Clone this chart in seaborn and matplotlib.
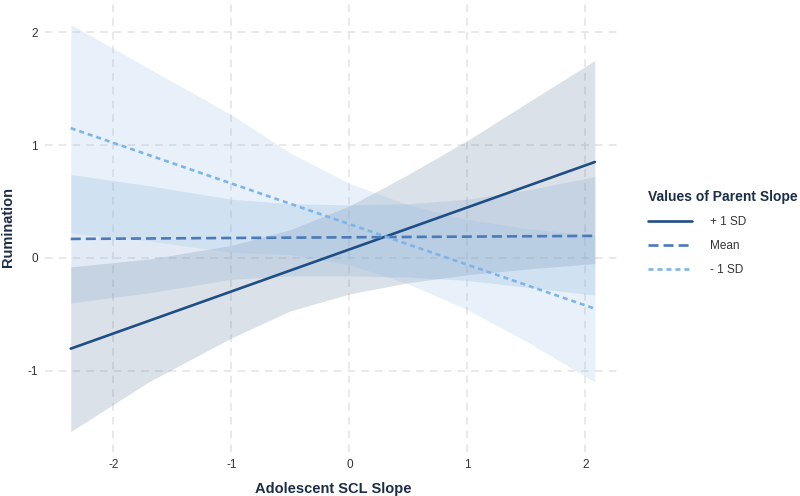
import numpy as np
import pandas as pd
import seaborn as sns
import matplotlib.pyplot as plt
from matplotlib.lines import Line2D

# simple slopes: line endpoints
line_x = [-2.36, 2.08]
plus_sd_line = [-0.805, 0.85]
mean_line = [0.168, 0.195]
minus_sd_line = [1.15, -0.45]

# confidence ribbons, read at a few x positions
band_x = [-2.36, -1.7, -1.0, -0.5, 0.0, 0.5, 1.0, 1.5, 2.08]
plus_sd_lo = [-1.54, -1.10, -0.71, -0.47, -0.32, -0.22, -0.15, -0.10, -0.05]
plus_sd_hi = [-0.08, -0.01, 0.11, 0.25, 0.46, 0.74, 1.04, 1.37, 1.75]
mean_lo = [-0.40, -0.31, -0.19, -0.16, -0.16, -0.17, -0.20, -0.26, -0.33]
mean_hi = [0.74, 0.64, 0.52, 0.48, 0.47, 0.48, 0.52, 0.60, 0.72]
minus_sd_lo = [0.22, 0.15, 0.05, 0.03, -0.06, -0.23, -0.46, -0.74, -1.10]
minus_sd_hi = [2.07, 1.68, 1.27, 0.93, 0.66, 0.47, 0.34, 0.26, 0.20]

levels = ["+ 1 SD", "Mean", "- 1 SD"]
line_colors = {"+ 1 SD": "#1f4e85", "Mean": "#4a7ab8", "- 1 SD": "#7db5e6"}
fill_colors = {"+ 1 SD": "#4f6a8f", "Mean": "#6f9fcf", "- 1 SD": "#8cb9e6"}
dash_styles = {"+ 1 SD": "", "Mean": (3.8, 1.9), "- 1 SD": (1.9, 1.5)}

df = pd.DataFrame({
    "slope": line_x * 3,
    "rumination": plus_sd_line + mean_line + minus_sd_line,
    "parent": [lv for lv in levels for _ in line_x],
})

sns.set_style("white")
plt.rcParams["font.family"] = ["Liberation Sans", "DejaVu Sans"]
plt.rcParams["axes.unicode_minus"] = False

fig = plt.figure(figsize=(8, 4.96), dpi=100)
ax = fig.add_axes([0.056, 0.089, 0.72, 0.905])

ax.grid(True, color="#e3e3e3", linestyle=(0, (5, 4)), linewidth=1.1)
ax.set_axisbelow(True)

bands = [("+ 1 SD", plus_sd_lo, plus_sd_hi),
         ("Mean", mean_lo, mean_hi),
         ("- 1 SD", minus_sd_lo, minus_sd_hi)]
for name, lo, hi in bands:
    ax.fill_between(band_x, lo, hi, color=fill_colors[name], alpha=0.2, linewidth=0)

sns.lineplot(data=df, x="slope", y="rumination", hue="parent", style="parent",
             hue_order=levels, style_order=levels, palette=line_colors,
             dashes=dash_styles, linewidth=1.9, legend=False, ax=ax)

ax.set_xlim(-2.58, 2.30)
ax.set_ylim(-1.72, 2.26)
ax.set_xticks([-2, -1, 0, 1, 2])
ax.set_yticks([-1, 0, 1, 2])
ax.tick_params(axis="both", length=0, labelsize=8.5, labelcolor="#333333", pad=5)
ax.set_xlabel("Adolescent SCL Slope", fontsize=10.5, fontweight="bold", color="#1c2d48", labelpad=8)
ax.set_ylabel("Rumination", fontsize=10.5, fontweight="bold", color="#1c2d48", labelpad=4)
ax.yaxis.set_label_coords(-0.052, 0.5)
sns.despine(ax=ax, left=True, bottom=True)

handles = [Line2D([0], [0], color=line_colors[lv], linewidth=1.9,
                  linestyle=(0, dash_styles[lv]) if dash_styles[lv] else "-")
           for lv in levels]
leg = fig.legend(handles, levels, title="Values of Parent Slope", loc="center left",
                 bbox_to_anchor=(0.797, 0.53), frameon=False, fontsize=8.5,
                 handlelength=3.7, handletextpad=1.5, labelspacing=1.0,
                 title_fontproperties={"weight": "bold", "size": 10})
leg.get_title().set_color("#1c2d48")
leg._legend_box.align = "left"
for t in leg.get_texts():
    t.set_color("#333333")

fig.savefig("out.png", dpi=100)
